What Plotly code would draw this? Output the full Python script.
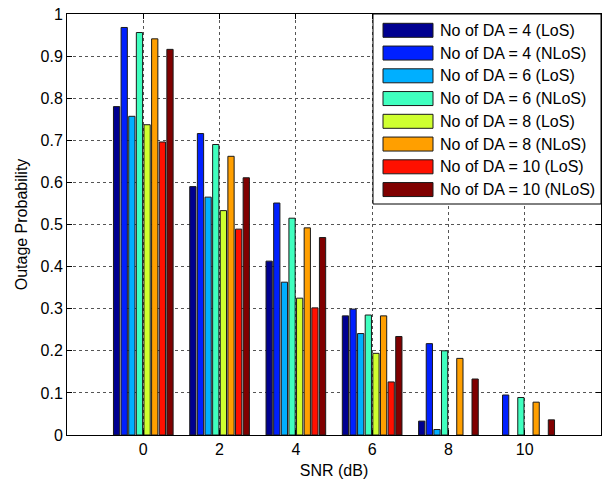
import plotly.graph_objects as go

# SNR values (dB) at which the outage probability was evaluated
snr_db = [0, 2, 4, 6, 8, 10]

# Outage probability per configuration
series_names = [
    "No of DA = 4 (LoS)",
    "No of DA = 4 (NLoS)",
    "No of DA = 6 (LoS)",
    "No of DA = 6 (NLoS)",
    "No of DA = 8 (LoS)",
    "No of DA = 8 (NLoS)",
    "No of DA = 10 (LoS)",
    "No of DA = 10 (NLoS)",
]
da4_los = [0.780, 0.590, 0.413, 0.283, 0.033, 0.0]
da4_nlos = [0.968, 0.716, 0.551, 0.299, 0.217, 0.095]
da6_los = [0.757, 0.565, 0.363, 0.241, 0.013, 0.0]
da6_nlos = [0.956, 0.690, 0.515, 0.285, 0.200, 0.089]
da8_los = [0.737, 0.533, 0.325, 0.194, 0.0, 0.0]
da8_nlos = [0.941, 0.662, 0.492, 0.283, 0.182, 0.078]
da10_los = [0.696, 0.489, 0.302, 0.126, 0.0, 0.0]
da10_nlos = [0.916, 0.611, 0.469, 0.234, 0.133, 0.036]

series_values = [da4_los, da4_nlos, da6_los, da6_nlos,
                 da8_los, da8_nlos, da10_los, da10_nlos]

# jet colormap samples
colors = ["#000090", "#0020FF", "#00AFFF", "#40FFBF",
          "#CFFF30", "#FF9F00", "#FF1000", "#800000"]

FONT = "Liberation Sans"
FS = 16

fig = go.Figure()
for name, vals, col in zip(series_names, series_values, colors):
    # empty bars get no outline so nothing shows on the baseline
    edge_w = [1 if v > 0 else 0 for v in vals]
    fig.add_trace(go.Bar(
        x=snr_db, y=vals, name=name,
        marker=dict(color=col, line=dict(color="#1a1a1a", width=edge_w)),
        showlegend=False,
    ))

# plot-area pixel frame used to place the boxed legend
L, R, T, B = 67, 601, 14, 435


def px_x(p):
    return (p - L) / (R - L)


def px_y(p):
    return (B - p) / (B - T)


shapes = [dict(type="rect", xref="paper", yref="paper",
               x0=px_x(373), x1=px_x(601), y0=px_y(204), y1=px_y(14),
               line=dict(color="black", width=1), fillcolor="white",
               layer="above")]
annotations = []
for i, (name, col) in enumerate(zip(series_names, colors)):
    cy = 30.3 + 22.75 * i
    shapes.append(dict(type="rect", xref="paper", yref="paper",
                       x0=px_x(383), x1=px_x(433),
                       y0=px_y(cy + 7), y1=px_y(cy - 7),
                       line=dict(color="#1a1a1a", width=1),
                       fillcolor=col, layer="above"))
    annotations.append(dict(xref="paper", yref="paper",
                            x=px_x(438), y=px_y(cy),
                            xanchor="left", yanchor="middle",
                            text=name, showarrow=False,
                            font=dict(family=FONT, size=FS, color="black")))

fig.update_layout(
    width=610, height=479,
    margin=dict(l=L, r=610 - R, t=T, b=479 - B),
    plot_bgcolor="white", paper_bgcolor="white",
    barmode="group", bargap=0.2, bargroupgap=0.18,
    font=dict(family=FONT, size=FS, color="black"),
    shapes=shapes, annotations=annotations,
    xaxis=dict(
        range=[-2, 12], tickvals=snr_db, ticktext=[str(v) for v in snr_db],
        ticks="inside", ticklen=5, tickcolor="black",
        showline=True, linecolor="black", linewidth=1, mirror="ticks",
        showgrid=True, gridcolor="#555555", griddash="dot", gridwidth=1,
        zeroline=False, automargin=False,
        title=dict(text="SNR (dB)", standoff=8,
                   font=dict(family=FONT, size=FS)),
    ),
    yaxis=dict(
        range=[0, 1], dtick=0.1,
        ticks="inside", ticklen=5, tickcolor="black",
        showline=True, linecolor="black", linewidth=1, mirror="ticks",
        showgrid=True, gridcolor="#555555", griddash="dot", gridwidth=1,
        zeroline=False, automargin=False,
        title=dict(text="Outage Probability", standoff=8,
                   font=dict(family=FONT, size=FS)),
    ),
)

fig.write_html("out.html")
